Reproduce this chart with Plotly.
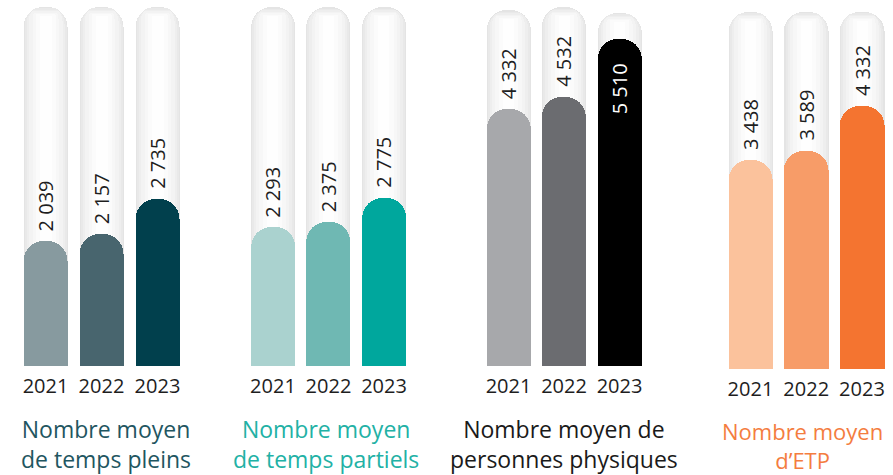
import plotly.graph_objects as go

years = ["2021", "2022", "2023"]
titles = [
    "Nombre moyen<br>de temps pleins",
    "Nombre moyen<br>de temps partiels",
    "Nombre moyen de<br>personnes physiques",
    "Nombre moyen<br>d\u2019ETP",
]
temps_pleins = [2039, 2157, 2735]
temps_partiels = [2293, 2375, 2775]
personnes_physiques = [4332, 4532, 5510]
etp = [3438, 3589, 4332]
series = [temps_pleins, temps_partiels, personnes_physiques, etp]

# capacity of the background "tubes" (decorative)
tubes = [[5876, 5876, 5876], [5934, 5934, 5934], [6003, 6054, 5953], [5872, 5872, 5872]]

bar_colors = [
    ["#879a9f", "#48656e", "#01404d"],
    ["#aad2cf", "#6fb8b3", "#00a79d"],
    ["#a7a8ab", "#6b6c70", "#000000"],
    ["#fbc29c", "#f79c68", "#f47430"],
]
title_colors = ["#1f5661", "#22b1a5", "#1a1a1a", "#f47d3f"]

# layout geometry
x_domains = [[0.0196, 0.2077], [0.2746, 0.4611], [0.5384, 0.7248], [0.8092, 0.9965]]
y_bottoms = [0.2295, 0.2295, 0.2295, 0.2232]
y_max = [5990, 6050, 6172, 6069]
title_y = [0.065, 0.065, 0.065, 0.062]
title_xshift = [5, -2, 0, -4]
H = 475
FONT = "Open Sans"
pos = list(range(len(years)))

fig = go.Figure()
tube_layers = [  # width, color, top drop (px)
    (0.80, "#e4e4e4", 0.0),
    (0.75, "#e9e9e9", 1.5),
    (0.68, "#eeeeee", 3.0),
    (0.59, "#f3f3f3", 4.5),
    (0.48, "#f7f7f7", 6.0),
    (0.35, "#fbfbfb", 7.5),
    (0.20, "#fefefe", 9.0),
]

for g in range(4):
    xa = "x" if g == 0 else f"x{g+1}"
    ya = "y" if g == 0 else f"y{g+1}"
    yb = f"y{g+5}"
    dom_px = (1 - y_bottoms[g]) * H
    per_px = y_max[g] / dom_px
    for w, col, drop in tube_layers:
        fig.add_trace(go.Bar(
            x=pos, y=[t - drop * per_px for t in tubes[g]], width=w, offset=-w / 2,
            marker=dict(color=col, line=dict(width=0), cornerradius=max(4, int(w / 0.8 * 20))),
            xaxis=xa, yaxis=ya, hoverinfo="skip", showlegend=False,
        ))
    fig.add_trace(go.Bar(
        x=pos, y=series[g], width=0.8, offset=-0.4,
        marker=dict(color=bar_colors[g], line=dict(width=0), cornerradius=20),
        xaxis=xa, yaxis=yb, showlegend=False,
    ))
    for i, v in enumerate(series[g]):
        label = f"{v:,}".replace(",", " ")
        inside = (g == 2 and i == 2)
        fig.add_annotation(
            x=pos[i], y=v, xref=xa, yref=ya, text=label, showarrow=False,
            textangle=-90, xanchor="center",
            yanchor="top" if inside else "bottom",
            yshift=-22 if inside else 8,
            font=dict(family=FONT, size=20, color="#ffffff" if inside else "#1e1e1e"),
        )
    layout_x = "xaxis" if g == 0 else f"xaxis{g+1}"
    layout_y = "yaxis" if g == 0 else f"yaxis{g+1}"
    fig.update_layout(**{
        layout_x: dict(domain=x_domains[g], anchor=ya, range=[-0.5, 2.5],
                       tickvals=pos, ticktext=years, ticklabelstandoff=6,
                       showgrid=False, zeroline=False, showline=False, ticks="",
                       tickfont=dict(family=FONT, size=20, color="#1e1e1e")),
        layout_y: dict(domain=[y_bottoms[g], 1], anchor=xa, range=[0, y_max[g]],
                       visible=False, showgrid=False, zeroline=False),
        f"yaxis{g+5}": dict(overlaying=ya, anchor=xa, range=[0, y_max[g]],
                            visible=False, showgrid=False, zeroline=False),
    })
    fig.add_annotation(
        x=0.5, y=title_y[g], xref=f"{xa} domain", yref="paper", xshift=title_xshift[g],
        text=titles[g], showarrow=False, xanchor="center", yanchor="middle",
        font=dict(family=FONT, size=23 if g < 3 else 22, color=title_colors[g]),
    )

fig.update_layout(
    width=893, height=475, margin=dict(l=0, r=0, t=0, b=0),
    paper_bgcolor="white", plot_bgcolor="white",
    barmode="group", bargap=0, showlegend=False,
)
fig.write_html("out.html", config={"displayModeBar": False},
               post_script="document.body.style.margin='0';")
